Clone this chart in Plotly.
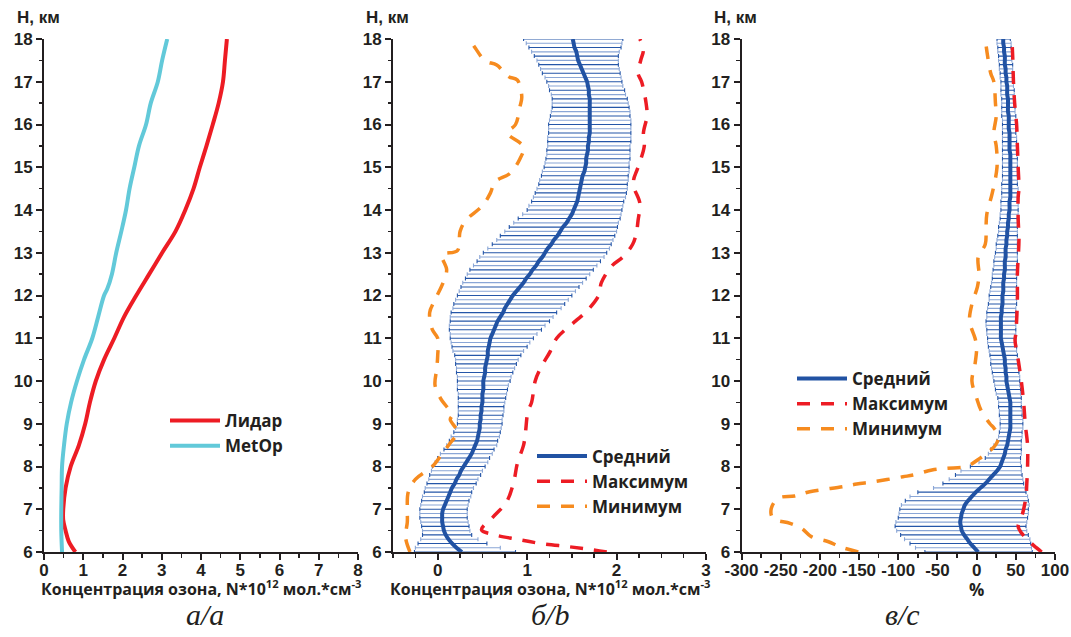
import plotly.graph_objects as go

# ---------------- Panel a: mean profiles ----------------
a_lidar_h = [6.0, 6.25, 6.5, 6.75, 7.0, 7.5, 8.0, 8.5, 9.0, 9.5, 10.0, 10.5, 11.0, 11.5,
             12.0, 12.5, 13.0, 13.5, 14.0, 14.5, 15.0, 15.5, 16.0, 16.5, 17.0, 17.5, 18.0]
a_lidar = [0.80, 0.63, 0.55, 0.49, 0.49, 0.55, 0.68, 0.89, 1.05, 1.17, 1.32, 1.53, 1.79, 2.04,
           2.35, 2.68, 3.01, 3.35, 3.60, 3.81, 3.97, 4.14, 4.30, 4.45, 4.56, 4.61, 4.66]
a_metop_h = [6.0, 6.5, 7.0, 7.5, 8.0, 8.5, 9.0, 9.5, 10.0, 10.5, 11.0, 11.5, 12.0, 12.15,
             12.5, 13.0, 13.5, 14.0, 14.5, 15.0, 15.5, 16.0, 16.5, 17.0, 17.5, 18.0]
a_metop = [0.46, 0.44, 0.44, 0.45, 0.46, 0.51, 0.58, 0.69, 0.84, 1.02, 1.23, 1.38, 1.53, 1.61,
           1.73, 1.84, 1.97, 2.09, 2.18, 2.30, 2.42, 2.60, 2.72, 2.90, 3.01, 3.14]

# ---------------- Levels for panels b and c (km) ----------------
levels = [6.0, 6.1, 6.2, 6.3, 6.4, 6.5, 6.6, 6.7, 6.8, 6.9,
          7.0, 7.1, 7.2, 7.3, 7.4, 7.5, 7.6, 7.7, 7.8, 7.9,
          8.0, 8.1, 8.2, 8.3, 8.4, 8.5, 8.6, 8.7, 8.8, 8.9,
          9.0, 9.1, 9.2, 9.3, 9.4, 9.5, 9.6, 9.7, 9.8, 9.9,
          10.0, 10.1, 10.2, 10.3, 10.4, 10.5, 10.6, 10.7, 10.8, 10.9,
          11.0, 11.1, 11.2, 11.3, 11.4, 11.5, 11.6, 11.7, 11.8, 11.9,
          12.0, 12.1, 12.2, 12.3, 12.4, 12.5, 12.6, 12.7, 12.8, 12.9,
          13.0, 13.1, 13.2, 13.3, 13.4, 13.5, 13.6, 13.7, 13.8, 13.9,
          14.0, 14.1, 14.2, 14.3, 14.4, 14.5, 14.6, 14.7, 14.8, 14.9,
          15.0, 15.1, 15.2, 15.3, 15.4, 15.5, 15.6, 15.7, 15.8, 15.9,
          16.0, 16.1, 16.2, 16.3, 16.4, 16.5, 16.6, 16.7, 16.8, 16.9,
          17.0, 17.1, 17.2, 17.3, 17.4, 17.5, 17.6, 17.7, 17.8, 17.9,
          18.0]

# ---------------- Panel b: difference, N*10^12 ----------------
b_mean = [0.27, 0.21, 0.16, 0.12, 0.09, 0.07, 0.06, 0.05, 0.05, 0.05,
          0.06, 0.08, 0.10, 0.12, 0.14, 0.16, 0.19, 0.21, 0.24, 0.26,
          0.29, 0.32, 0.35, 0.38, 0.40, 0.42, 0.44, 0.45, 0.46, 0.47,
          0.47, 0.48, 0.48, 0.49, 0.49, 0.50, 0.50, 0.50, 0.51, 0.51,
          0.51, 0.52, 0.53, 0.53, 0.54, 0.55, 0.56, 0.56, 0.57, 0.58,
          0.59, 0.61, 0.63, 0.65, 0.67, 0.70, 0.73, 0.75, 0.78, 0.81,
          0.84, 0.88, 0.92, 0.96, 0.99, 1.03, 1.06, 1.10, 1.13, 1.17,
          1.20, 1.23, 1.27, 1.30, 1.34, 1.37, 1.40, 1.44, 1.47, 1.50,
          1.52, 1.54, 1.56, 1.57, 1.58, 1.59, 1.60, 1.61, 1.62, 1.64,
          1.65, 1.66, 1.66, 1.67, 1.68, 1.68, 1.69, 1.69, 1.70, 1.70,
          1.70, 1.70, 1.70, 1.70, 1.70, 1.70, 1.70, 1.69, 1.69, 1.68,
          1.67, 1.65, 1.63, 1.61, 1.59, 1.57, 1.56, 1.55, 1.53, 1.52,
          1.51]
b_low = [-0.26, -0.25, -0.22, -0.19, -0.17, -0.17, -0.18, -0.19, -0.20, -0.20,
         -0.20, -0.19, -0.18, -0.17, -0.15, -0.14, -0.12, -0.10, -0.09, -0.07,
         -0.06, -0.03, 0.00, 0.03, 0.07, 0.10, 0.13, 0.15, 0.18, 0.20,
         0.22, 0.22, 0.23, 0.23, 0.23, 0.23, 0.23, 0.23, 0.22, 0.22,
         0.22, 0.22, 0.21, 0.21, 0.20, 0.20, 0.19, 0.17, 0.16, 0.15,
         0.14, 0.14, 0.13, 0.13, 0.14, 0.14, 0.15, 0.17, 0.18, 0.20,
         0.22, 0.24, 0.26, 0.28, 0.31, 0.33, 0.36, 0.40, 0.44, 0.47,
         0.51, 0.56, 0.61, 0.66, 0.70, 0.75, 0.80, 0.85, 0.90, 0.95,
         1.00, 1.02, 1.05, 1.07, 1.09, 1.11, 1.13, 1.14, 1.16, 1.17,
         1.19, 1.20, 1.21, 1.22, 1.22, 1.23, 1.23, 1.23, 1.24, 1.24,
         1.24, 1.25, 1.26, 1.27, 1.28, 1.28, 1.28, 1.27, 1.25, 1.24,
         1.22, 1.20, 1.17, 1.15, 1.13, 1.11, 1.08, 1.05, 1.02, 0.99,
         0.96]
b_high = [0.87, 0.70, 0.55, 0.45, 0.38, 0.36, 0.35, 0.34, 0.33, 0.33,
          0.33, 0.34, 0.35, 0.37, 0.38, 0.40, 0.43, 0.45, 0.48, 0.50,
          0.53, 0.56, 0.58, 0.61, 0.63, 0.66, 0.67, 0.69, 0.70, 0.71,
          0.72, 0.72, 0.73, 0.74, 0.74, 0.75, 0.76, 0.77, 0.78, 0.79,
          0.81, 0.82, 0.84, 0.86, 0.88, 0.90, 0.93, 0.96, 1.00, 1.03,
          1.07, 1.11, 1.16, 1.20, 1.25, 1.29, 1.33, 1.38, 1.42, 1.46,
          1.50, 1.54, 1.58, 1.62, 1.66, 1.70, 1.74, 1.78, 1.82, 1.86,
          1.89, 1.92, 1.94, 1.96, 1.98, 2.00, 2.01, 2.02, 2.04, 2.05,
          2.06, 2.07, 2.08, 2.10, 2.11, 2.12, 2.12, 2.13, 2.13, 2.14,
          2.14, 2.14, 2.15, 2.15, 2.15, 2.15, 2.16, 2.16, 2.16, 2.16,
          2.16, 2.16, 2.15, 2.15, 2.14, 2.13, 2.12, 2.10, 2.09, 2.07,
          2.06, 2.05, 2.04, 2.03, 2.02, 2.02, 2.02, 2.03, 2.05, 2.06,
          2.07]
b_max_h = [6.0, 6.05, 6.12, 6.2, 6.3, 6.4, 6.52, 6.82, 7.17, 7.64, 8.07, 8.5, 8.77, 9.3,
           9.5, 10.0, 10.3, 10.7, 11.0, 11.4, 11.6, 12.0, 12.3, 12.7, 12.9, 13.2, 13.45,
           13.75, 14.16, 14.5, 14.7, 15.0, 15.5, 15.8, 16.2, 16.5, 17.0, 17.2, 17.5,
           17.75, 18.0]
b_max = [1.89, 1.74, 1.48, 1.15, 0.88, 0.64, 0.49, 0.62, 0.77, 0.85, 0.89, 0.96, 0.98, 1.01,
         1.05, 1.09, 1.15, 1.26, 1.33, 1.54, 1.65, 1.80, 1.83, 1.95, 2.07, 2.18, 2.22,
         2.24, 2.26, 2.20, 2.19, 2.24, 2.31, 2.30, 2.34, 2.33, 2.28, 2.24, 2.27,
         2.30, 2.26]
b_min_h = [6.0, 6.35, 6.7, 7.0, 7.4, 7.7, 8.0, 8.3, 8.55, 8.8, 9.1, 9.2, 9.6, 9.9, 10.3,
           10.6, 11.0, 11.2, 11.6, 11.9, 12.3, 12.6, 12.95, 13.05, 13.5, 13.75, 14.1, 14.4,
           14.66, 14.86, 15.2, 15.48, 15.8, 16.0, 16.42, 16.65, 17.04, 17.12, 17.39,
           17.49, 17.79, 17.98]
b_min = [-0.31, -0.36, -0.34, -0.34, -0.33, -0.25, -0.06, 0.05, 0.14, 0.22, 0.14, 0.16,
         0.03, -0.03, -0.01, 0.00, 0.00, -0.06, -0.09, -0.03, 0.06, 0.10, 0.05, 0.22,
         0.25, 0.31, 0.50, 0.59, 0.64, 0.81, 0.92, 0.96, 0.78, 0.87, 0.92, 0.94, 0.89,
         0.79, 0.66, 0.53, 0.42, 0.36]

# ---------------- Panel c: difference, % ----------------
c_mean = [2, -3, -8, -12, -16, -19, -20, -21, -20, -19,
          -17, -15, -11, -6, -1, 5, 11, 16, 21, 26,
          30, 32, 34, 36, 37, 39, 40, 41, 42, 43,
          43, 43, 43, 43, 43, 43, 42, 41, 40, 39,
          38, 38, 37, 37, 36, 36, 35, 34, 33, 32,
          31, 31, 31, 31, 31, 31, 32, 32, 33, 33,
          33, 34, 34, 34, 35, 35, 36, 36, 36, 37,
          37, 37, 38, 38, 39, 39, 40, 40, 41, 41,
          42, 42, 42, 43, 43, 43, 43, 43, 43, 43,
          43, 43, 43, 43, 42, 42, 42, 42, 42, 41,
          41, 41, 41, 40, 40, 40, 40, 39, 39, 39,
          38, 38, 37, 37, 36, 36, 36, 35, 35, 34,
          34]
c_low = [-66, -78, -85, -92, -97, -102, -104, -103, -100, -99,
         -98, -96, -91, -85, -75, -55, -43, -35, -27, -20,
         -8, 3, 11, 15, 18, 22, 26, 28, 29, 30,
         30, 30, 29, 29, 28, 28, 27, 25, 24, 23,
         22, 21, 20, 19, 18, 18, 17, 16, 15, 14,
         14, 13, 13, 12, 12, 13, 13, 14, 15, 16,
         16, 17, 18, 19, 20, 20, 21, 22, 22, 23,
         24, 25, 25, 26, 27, 28, 28, 29, 30, 30,
         31, 31, 31, 32, 32, 32, 32, 33, 33, 33,
         33, 33, 33, 33, 33, 33, 33, 33, 33, 33,
         33, 33, 32, 32, 32, 32, 32, 31, 31, 31,
         31, 30, 30, 29, 29, 28, 28, 27, 27, 26,
         26]
c_high = [71, 70, 69, 68, 66, 64, 63, 64, 65, 66,
          66, 67, 66, 65, 63, 62, 60, 59, 58, 57,
          57, 56, 56, 57, 57, 57, 57, 58, 58, 59,
          59, 59, 58, 58, 57, 57, 57, 56, 56, 55,
          55, 55, 54, 54, 53, 53, 52, 51, 51, 50,
          50, 50, 50, 50, 50, 50, 50, 50, 51, 51,
          51, 51, 51, 51, 51, 52, 52, 52, 52, 52,
          52, 52, 52, 52, 52, 52, 52, 52, 52, 53,
          53, 53, 53, 53, 53, 53, 52, 52, 52, 52,
          52, 52, 52, 51, 51, 51, 51, 51, 50, 50,
          50, 50, 50, 49, 49, 49, 48, 48, 48, 47,
          47, 47, 46, 46, 46, 45, 45, 45, 44, 44,
          43]
c_max_h = [6.0, 6.15, 6.27, 6.45, 6.6, 6.8, 7.0, 7.3, 7.6, 8.0, 8.5, 9.0, 9.5, 10.0, 10.5,
           10.96, 11.1, 11.9, 12.5, 13.3, 13.8, 14.3, 14.5, 15.0, 15.5, 16.0, 16.5, 17.0,
           17.6, 18.0]
c_max = [83, 73, 66, 57, 53, 57, 60, 63, 64, 65, 65, 62, 60, 57, 53,
         49, 50, 52, 52, 54, 53, 53, 54, 53, 52, 51, 48.5, 47,
         46, 45]
c_min_h = [6.0, 6.12, 6.24, 6.36, 6.55, 6.67, 6.79, 7.02, 7.26, 7.31, 7.41, 7.53, 7.59, 7.64,
           7.76, 7.80, 7.92, 7.96, 8.0, 8.19, 8.3, 8.5, 8.7, 8.9, 9.0, 9.3, 9.6, 10.0, 10.4,
           10.8, 11.0, 11.4, 11.8, 12.2, 12.5, 12.9, 13.2, 13.6, 13.9, 14.4, 15.0, 15.5,
           15.8, 16.2, 16.5, 17.0, 17.2, 17.6, 18.0]
c_min = [-151, -174, -189, -211, -223, -238, -260, -262, -253, -232, -213, -170, -153, -132,
         -94, -81, -57, -38, -13, 4, 12, 24, 28, 22, 17, 6, 0, -6, -2,
         0, -2, -9, -6, 1, 3, 2, 11, 12, 13, 20, 26, 25,
         22, 25, 24, 22, 18, 14, 11]

# ---------------- Tick labels ----------------
y_ticks = [6, 7, 8, 9, 10, 11, 12, 13, 14, 15, 16, 17, 18]
xa_ticks = [0, 1, 2, 3, 4, 5, 6, 7, 8]
xb_ticks = [0, 1, 2, 3]
xc_ticks = [-300, -250, -200, -150, -100, -50, 0, 50, 100]

# ---------------- Text ----------------
x_title = "Концентрация озона, N*10<sup>12</sup> мол.*см<sup>-3</sup>"
y_title = "H, км"
captions = ["а/a", "б/b", "в/c"]
names_a = ["Лидар", "MetOp"]
names_bc = ["Средний", "Максимум", "Минимум"]

# ---------------- Styling ----------------
W, Hh = 1071, 637
RED = "#ed1c24"
CYAN = "#62c9d9"
BLUE = "#2152a3"
ORANGE = "#f68b1f"
BAR_DARK = "#2556a8"
BAR_LIGHT = "#8aa6d6"
INK = "#231f20"
DASH = "13px,11px"


def fx(p):
    return p / W


def fy(p):
    return 1 - p / Hh


dom_x = [(44, 358), (393, 706), (741.5, 1055)]
dom_y = [fy(552), fy(39)]

fig = go.Figure()

# Panel a
fig.add_trace(go.Scatter(x=a_lidar, y=a_lidar_h, name=names_a[0], mode="lines",
                         line=dict(color=RED, width=4, shape="spline"),
                         xaxis="x", yaxis="y", legend="legend"))
fig.add_trace(go.Scatter(x=a_metop, y=a_metop_h, name=names_a[1], mode="lines",
                         line=dict(color=CYAN, width=4, shape="spline"),
                         xaxis="x", yaxis="y", legend="legend"))


def add_panel(mean, low, high, mx_h, mx, mn_h, mn, xa, ya, leg):
    # error bars, alternating dark / light rows
    for start, col in ((0, BAR_DARK), (1, BAR_LIGHT)):
        m = mean[start::2]
        lo = low[start::2]
        hi = high[start::2]
        hs = levels[start::2]
        fig.add_trace(go.Scatter(
            x=m, y=hs, mode="markers",
            marker=dict(size=1, color="rgba(0,0,0,0)"),
            error_x=dict(type="data", symmetric=False,
                         array=[h - v for h, v in zip(hi, m)],
                         arrayminus=[v - l for v, l in zip(m, lo)],
                         color=col, thickness=1.1, width=2),
            showlegend=False, hoverinfo="skip", xaxis=xa, yaxis=ya))
    fig.add_trace(go.Scatter(x=mx, y=mx_h, name=names_bc[1], mode="lines",
                             line=dict(color=RED, width=3.5, dash=DASH, shape="spline"),
                             xaxis=xa, yaxis=ya, legend=leg, legendrank=2))
    fig.add_trace(go.Scatter(x=mn, y=mn_h, name=names_bc[2], mode="lines",
                             line=dict(color=ORANGE, width=3.5, dash=DASH, shape="spline"),
                             xaxis=xa, yaxis=ya, legend=leg, legendrank=3))
    fig.add_trace(go.Scatter(x=mean, y=levels, name=names_bc[0], mode="lines",
                             line=dict(color=BLUE, width=4, shape="spline"),
                             xaxis=xa, yaxis=ya, legend=leg, legendrank=1))


add_panel(b_mean, b_low, b_high, b_max_h, b_max, b_min_h, b_min, "x2", "y2", "legend2")
add_panel(c_mean, c_low, c_high, c_max_h, c_max, c_min_h, c_min, "x3", "y3", "legend3")

tickfont = dict(family="Liberation Sans, Arial", size=17, color=INK)
axis_common = dict(showline=True, linecolor=INK, linewidth=2, ticks="outside", ticklen=6,
                   tickwidth=2, tickcolor=INK, showgrid=False, zeroline=False,
                   tickfont=tickfont, fixedrange=True, tickangle=0, automargin=False,
                   tickmode="array")


def bold(vals):
    return ["<b>%s</b>" % v for v in vals]


x_ranges = [[0, 8], [-0.5, 3], [-300, 100]]
x_ticks = [xa_ticks, xb_ticks, xc_ticks]
x_minor = [0.5, 0.25, 25]
layout = dict(width=W, height=Hh, margin=dict(l=0, r=0, t=0, b=0, autoexpand=False),
              paper_bgcolor="white", plot_bgcolor="white")
for i in range(3):
    sfx = "" if i == 0 else str(i + 1)
    layout["xaxis" + sfx] = dict(axis_common, domain=[fx(dom_x[i][0]), fx(dom_x[i][1])],
                                 range=x_ranges[i], tickvals=x_ticks[i],
                                 ticktext=bold(x_ticks[i]), anchor="y" + sfx,
                                 ticklabelstandoff=-4,
                                 minor=dict(ticks="outside", ticklen=3.5, tickwidth=1.5,
                                            tickcolor=INK, dtick=x_minor[i], tick0=0,
                                            tickmode="linear"))
    layout["yaxis" + sfx] = dict(axis_common, domain=dom_y, range=[6, 18],
                                 tickvals=y_ticks, ticktext=bold(y_ticks),
                                 anchor="x" + sfx,
                                 minor=dict(ticks="outside", ticklen=3.5, tickwidth=1.5,
                                            tickcolor=INK, dtick=0.5, tick0=0,
                                            tickmode="linear"))

legfont = dict(family="Open Sans", size=17, color=INK, weight="bold")
legbase = dict(font=legfont, bgcolor="rgba(0,0,0,0)", borderwidth=0,
               xanchor="left", yanchor="top", itemwidth=50, tracegroupgap=0)
layout["legend"] = dict(legbase, x=fx(165), y=fy(403))
layout["legend2"] = dict(legbase, x=fx(532), y=fy(438.5))
layout["legend3"] = dict(legbase, x=fx(792), y=fy(361))

ann = []
for i in range(3):
    ax = dom_x[i][0]
    ann.append(dict(text="<b>%s</b>" % y_title, x=fx(ax - 6), y=fy(18), xref="paper",
                    yref="paper", xanchor="center", yanchor="middle", showarrow=False,
                    font=dict(family="Liberation Sans, Arial", size=17, color=INK)))
for cx in (201, 550):
    ann.append(dict(text="<b>%s</b>" % x_title, x=fx(cx), y=fy(588), xref="paper",
                    yref="paper", xanchor="center", yanchor="middle", showarrow=False,
                    font=dict(family="Open Sans", size=16, color=INK)))
ann.append(dict(text="<b>%</b>", x=fx(976), y=fy(589), xref="paper", yref="paper",
                xanchor="center", yanchor="middle", showarrow=False,
                font=dict(family="Open Sans", size=17, color=INK)))
cap_x = [205, 550, 902]
for i in range(3):
    ann.append(dict(text=captions[i], x=fx(cap_x[i]), y=fy(614), xref="paper", yref="paper",
                    xanchor="center", yanchor="middle", showarrow=False,
                    font=dict(family="Liberation Serif, Times New Roman", size=30,
                              color=INK, style="italic")))
layout["annotations"] = ann

fig.update_layout(**layout)
fig.write_html("out.html",
               config={"displayModeBar": False, "staticPlot": True},
               post_script="document.body.style.margin='0px';"
                           "document.body.style.overflow='hidden';")
